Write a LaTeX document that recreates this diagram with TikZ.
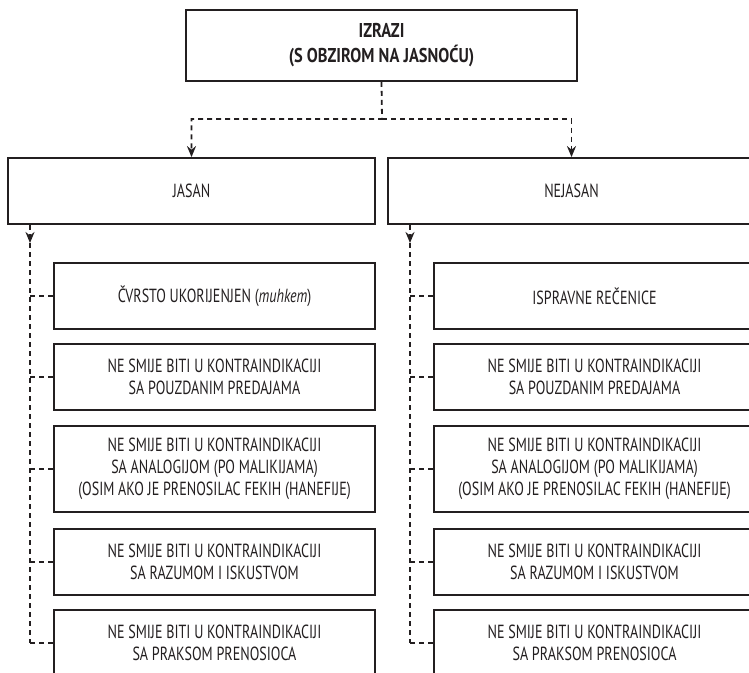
\documentclass[tikz,border=0pt]{standalone}
\usepackage{fontspec}
\setmainfont{PT Sans}[FakeStretch=0.74]
\newfontfamily\headfont{PT Sans}[FakeStretch=0.82]
\usetikzlibrary{arrows.meta,positioning}
\definecolor{ink}{HTML}{231F20}
\tikzset{
    box/.style={
        draw=ink,
        line width=1.8pt,
        align=center,
        inner sep=0pt,
        text=ink,
        font=\fontsize{19}{22}\selectfont
    },
    item/.style={
        box,
        minimum width=321pt
    },
    link/.style={
        draw=ink,
        line width=1.8pt,
        dash pattern=on 5pt off 4pt
    },
    tip/.style={-{Stealth[length=11pt,width=9pt]}}
}

\begin{document}
\begin{tikzpicture}[x=1pt,y=-1pt]
  \useasboundingbox (0,0) rectangle (749,672);
  \clip (0,0) rectangle (749,672);
  \node[box,minimum width=391pt,minimum height=71pt,
        font=\headfont\bfseries\fontsize{20}{25}\selectfont] (izrazi) at (381.5,45.5)
        {IZRAZI\\(S OBZIROM NA JASNOĆU)};
  \node[box,minimum width=367pt,minimum height=66pt] (jasan) at (191.5,191) {JASAN};
  \node[box,minimum width=367pt,minimum height=66pt] (nejasan) at (571.5,191) {NEJASAN};
  \coordinate (fork) at (382,119);
  \draw[link,tip] (izrazi.south) -- (fork) -| (jasan.north);
  \draw[link,tip] (fork) -| (nejasan.north);
  % both columns have the same list, only the first item differs
  \foreach \c/\up/\sx/\cx/\first in {L/jasan/30/214.5/{ČVRSTO UKORIJENJEN (\textit{muhkem})},
                                    R/nejasan/410/594.5/{ISPRAVNE REČENICE}}{
    \coordinate (\c s) at (\sx,243);
    \node[item,minimum height=66pt] (\c1) at (\cx,296) {\first};
    \foreach \k/\y/\h/\txt in {
        2/377/66/{NE SMIJE BITI U KONTRAINDIKACIJI\\SA POUZDANIM PREDAJAMA},
        3/469/86/{NE SMIJE BITI U KONTRAINDIKACIJI\\SA ANALOGIJOM (PO MALIKIJAMA)\\(OSIM AKO JE PRENOSILAC FEKIH (HANEFIJE)},
        4/562/66/{NE SMIJE BITI U KONTRAINDIKACIJI\\SA RAZUMOM I ISKUSTVOM},
        5/643/66/{NE SMIJE BITI U KONTRAINDIKACIJI\\SA PRAKSOM PRENOSIOCA}}
      \node[item,minimum height=\h pt] (\c\k) at (\cx,\y) {\txt};
    \draw[link,tip] (\c s |- \up.south) -- (\c s);
    \draw[link] (\c s) -- (\c s |- \c5.west);
    \foreach \k in {1,...,5}
      \draw[link] (\c s |- \c\k.west) -- (\c\k.west);
  }
\end{tikzpicture}
\end{document}
